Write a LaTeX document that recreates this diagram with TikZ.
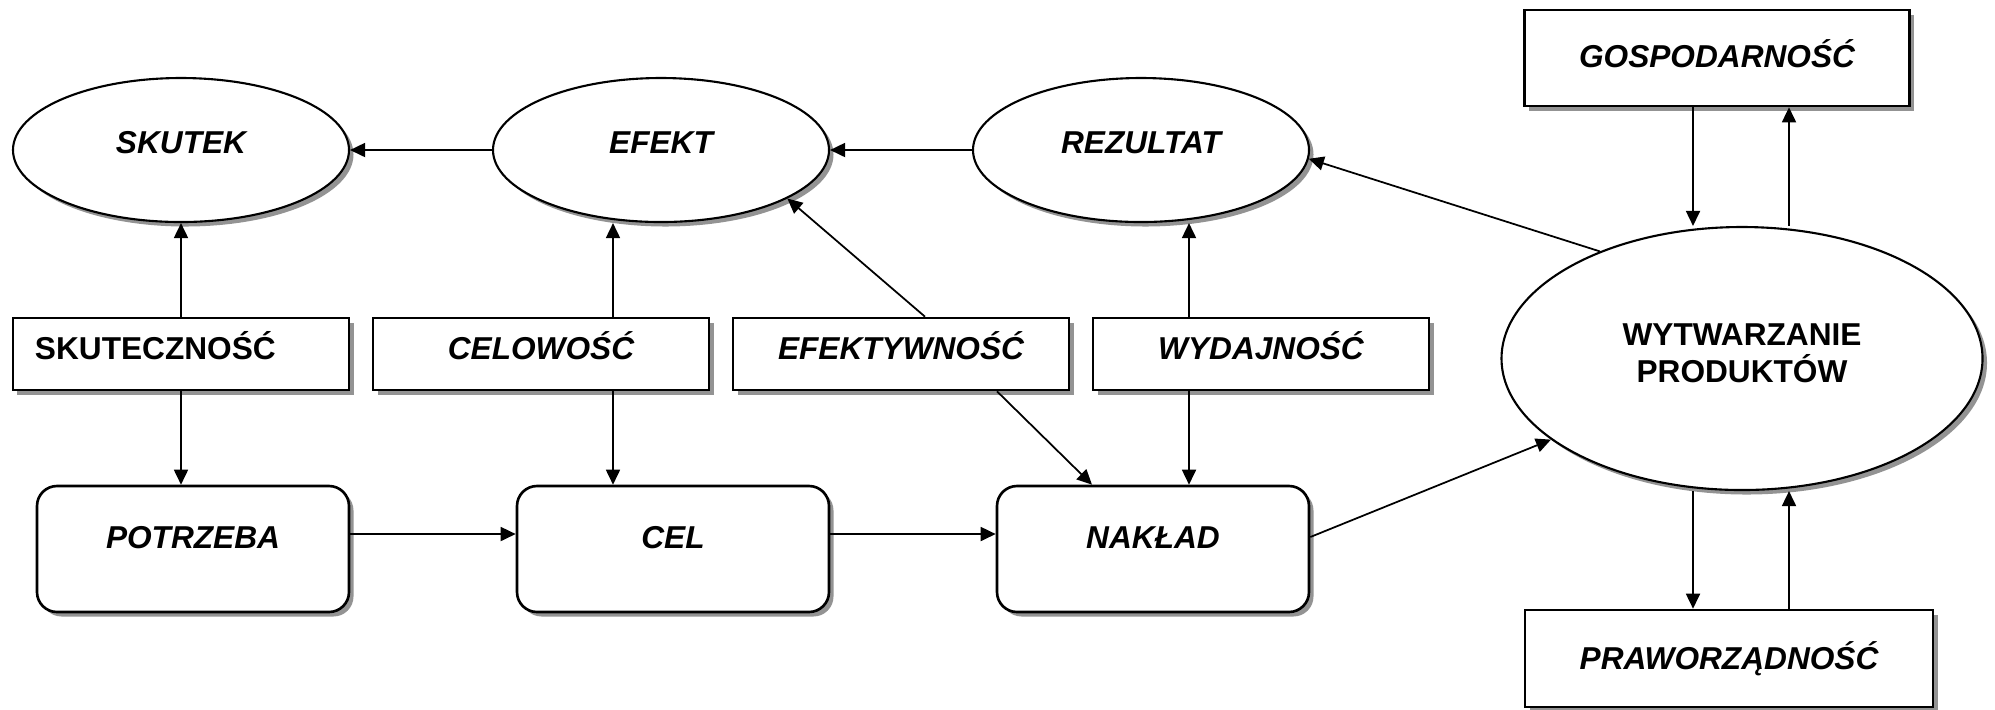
\documentclass[tikz,border=0pt]{standalone}
\usepackage{fontspec}
\setmainfont{Liberation Sans}
\usepackage{tikz}
\usetikzlibrary{shapes.geometric, arrows.meta, shadows}
\tikzstyle{boxshadow} = [drop shadow={shadow xshift=0.045cm, shadow yshift=-0.045cm, fill=gray!85, opacity=1}]
\tikzstyle{module} = [rectangle, minimum width=3.36cm, minimum height=0.72cm, text centered, draw=black, line width=0.75pt, fill=white, font=\fontsize{9}{10.5}\selectfont\bfseries\itshape, text height=6.5pt, text depth=3.3pt, boxshadow]
\usetikzlibrary{positioning}

\begin{document}
\begin{tikzpicture}[node distance=4.8cm, >={Triangle[length=1.5mm, width=1.4mm]}, line width=0.5pt]
            \tikzstyle{outcome} = [module, ellipse, minimum width=3.36cm, minimum height=1.44cm, line width=0.6pt, text depth=4.5pt]
            \tikzstyle{stage} = [module, rounded corners=0.2cm, minimum width=3.12cm, minimum height=1.26cm, text depth=6.9pt]
            \tikzstyle{criterion} = [module, minimum width=3.85cm, minimum height=0.96cm, text depth=1.1pt]
            \tikzstyle{process} = [ellipse, draw=black, line width=0.6pt, fill=white, boxshadow, minimum width=4.81cm, minimum height=2.63cm, align=center, font=\fontsize{9}{10.5}\selectfont\bfseries, text depth=3.2pt]

            \useasboundingbox (0,0) rectangle (19.95,-7.09);

            \node[outcome] (skutek) at (1.81,-1.50) {SKUTEK};
            \node[outcome, right of=skutek] (efekt) {EFEKT};
            \node[outcome, right of=efekt] (rezultat) {REZULTAT};

            \node[module, node distance=2.04cm, below of=skutek, font=\fontsize{9}{10.5}\selectfont\bfseries, inner xsep=0.22cm, text width=2.92cm, align=left] (skutecznosc) {SKUTECZNOŚĆ};
            \node[module, node distance=3.6cm, right of=skutecznosc] (celowosc) {CELOWOŚĆ};
            \node[module, node distance=3.6cm, right of=celowosc] (efektywnosc) {EFEKTYWNOŚĆ};
            \node[module, node distance=3.6cm, right of=efektywnosc] (wydajnosc) {WYDAJNOŚĆ};

            \node[stage, node distance=1.95cm, below of=skutecznosc, xshift=0.12cm] (potrzeba) {POTRZEBA};
            \node[stage, right of=potrzeba] (cel) {CEL};
            \node[stage, right of=cel] (naklad) {NAKŁAD};

            \node[criterion] (gospodarnosc) at (17.17,-0.58) {GOSPODARNOŚĆ};
            \node[process] (wytwarzanie) at (17.42,-3.585) {WYTWARZANIE\\PRODUKTÓW};
            \node[criterion, minimum width=4.08cm, minimum height=0.97cm, text depth=0.5pt] (praworzadnosc) at (17.29,-6.585) {PRAWORZĄDNOŚĆ};

            \draw[->] (efekt) -- (skutek);
            \draw[->] (rezultat) -- (efekt);
            \draw[->] (skutecznosc) -- (skutek);
            \draw[->] (skutecznosc.south) -- (skutecznosc.south |- potrzeba.north);

            \draw[->] ([xshift=0.72cm]celowosc.north) -- ([xshift=0.72cm]celowosc.north |- efekt.south);
            \draw[->] ([xshift=0.72cm]celowosc.south) -- ([xshift=0.72cm]celowosc.south |- cel.north);
            \draw[->] ([xshift=0.24cm]efektywnosc.north) -- (efekt.339);
            \draw[->] ([xshift=0.96cm]efektywnosc.south) -- ([xshift=-0.61cm]naklad.north);
            \draw[->] ([xshift=-0.72cm]wydajnosc.north) -- ([xshift=-0.72cm]wydajnosc.north |- rezultat.south);
            \draw[->] ([xshift=-0.72cm]wydajnosc.south) -- ([xshift=-0.72cm]wydajnosc.south |- naklad.north);

            \draw[->] ([yshift=0.15cm]potrzeba.east) -- ([yshift=0.15cm]cel.west);
            \draw[->] ([yshift=0.15cm]cel.east) -- ([yshift=0.15cm]naklad.west);
            \draw[->] ([yshift=0.12cm]naklad.east) -- (wytwarzanie.203);
            \draw[->] (wytwarzanie.143) -- (rezultat.357);

            \draw[->] ([xshift=-0.24cm]gospodarnosc.south) -- ([xshift=-0.24cm]gospodarnosc.south |- wytwarzanie.north);
            \draw[->] ([xshift=0.72cm]gospodarnosc.south |- wytwarzanie.north) -- ([xshift=0.72cm]gospodarnosc.south);
            \draw[->] ([xshift=-0.36cm]praworzadnosc.north |- wytwarzanie.south) -- ([xshift=-0.36cm]praworzadnosc.north);
            \draw[->] ([xshift=0.60cm]praworzadnosc.north) -- ([xshift=0.60cm]praworzadnosc.north |- wytwarzanie.south);

        \end{tikzpicture}
\end{document}
